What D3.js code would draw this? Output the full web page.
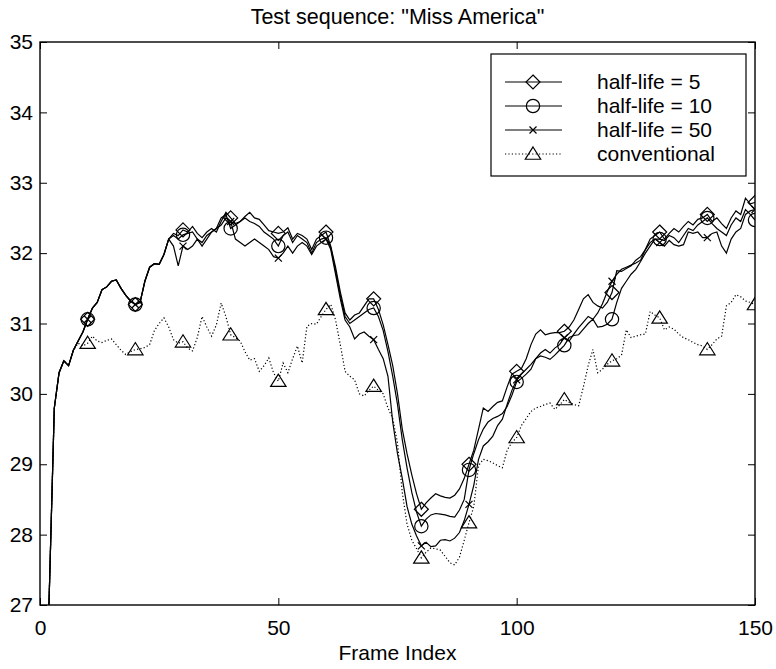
<!DOCTYPE html>
<html>
<head>
<meta charset="utf-8">
<script src="https://cdn.jsdelivr.net/npm/d3@7"></script>
<style>
  body { margin: 0; background: #fff; }
  text { font-family: "Liberation Sans", Arial, sans-serif; }
</style>
</head>
<body>
<svg id="chart" width="776" height="669"></svg>
<script>
// frames 1..150
const frames = d3.range(1, 151);

const halfLife5 = [
  25.0, 27.3, 29.8, 30.3, 30.47, 30.4, 30.62, 30.75, 30.88, 31.06,
  31.22, 31.3, 31.48, 31.52, 31.6, 31.62, 31.5, 31.4, 31.32, 31.27,
  31.3, 31.6, 31.8, 31.85, 31.84, 31.98, 32.2, 32.28, 32.25, 32.33,
  32.3, 32.38, 32.28, 32.22, 32.3, 32.35, 32.3, 32.45, 32.58, 32.5,
  32.42, 32.45, 32.52, 32.58, 32.5, 32.48, 32.4, 32.32, 32.3, 32.28,
  32.3, 32.36, 32.2, 32.28, 32.25, 32.2, 32.05, 32.2, 32.25, 32.3,
  32.1, 31.8, 31.45, 31.15, 31.05, 31.12, 31.15, 31.25, 31.35, 31.35,
  31.2, 30.98, 30.7, 30.4, 30.0, 29.5, 29.15, 28.85, 28.58, 28.36,
  28.45, 28.52, 28.58, 28.55, 28.53, 28.52, 28.56, 28.65, 28.8, 29.0,
  29.2, 29.5, 29.8, 29.75, 29.82, 29.88, 29.9, 30.1, 30.28, 30.32,
  30.36, 30.5, 30.7, 30.85, 30.91, 30.84, 30.86, 30.87, 30.87, 30.89,
  30.95, 31.05, 31.2, 31.35, 31.41, 31.3, 31.25, 31.22, 31.3, 31.44,
  31.75, 31.74, 31.78, 31.82, 31.9, 31.95, 32.05, 32.2, 32.25, 32.3,
  32.2, 32.28, 32.35, 32.3, 32.38, 32.45, 32.4, 32.48, 32.5, 32.55,
  32.45, 32.5, 32.42, 32.35, 32.5, 32.6, 32.55, 32.78, 32.7, 32.72
];

const halfLife10 = [
  25.0, 27.3, 29.8, 30.3, 30.47, 30.4, 30.62, 30.75, 30.88, 31.06,
  31.22, 31.3, 31.48, 31.52, 31.6, 31.62, 31.5, 31.4, 31.32, 31.27,
  31.3, 31.6, 31.8, 31.85, 31.84, 31.98, 32.2, 32.25, 32.2, 32.26,
  32.28, 32.3, 32.2, 32.15, 32.25, 32.3, 32.35, 32.5, 32.55, 32.35,
  32.4, 32.45, 32.5, 32.45, 32.42, 32.38, 32.3, 32.25, 32.2, 32.1,
  32.25, 32.3, 32.15, 32.25, 32.2, 32.15, 32.0, 32.15, 32.2, 32.22,
  32.08, 31.75, 31.4, 31.1, 31.0, 31.05, 31.1, 31.15, 31.2, 31.22,
  31.1, 30.9, 30.6, 30.25, 29.85, 29.35, 28.95, 28.6, 28.32, 28.12,
  28.22, 28.28, 28.3, 28.29, 28.28, 28.26, 28.25, 28.35, 28.5, 28.92,
  29.15, 29.35, 29.5, 29.6, 29.65, 29.68, 29.72, 29.82, 29.98, 30.17,
  30.22, 30.28, 30.35, 30.5, 30.54, 30.52, 30.49, 30.55, 30.62, 30.69,
  30.8, 30.83, 30.84, 30.92, 31.0, 31.06, 30.95, 30.96, 30.99, 31.06,
  31.3, 31.5, 31.6, 31.7, 31.77, 31.88, 32.0, 32.1, 32.2, 32.2,
  32.18, 32.25, 32.22, 32.15, 32.25, 32.35, 32.32, 32.4, 32.45, 32.5,
  32.42, 32.35, 32.3, 32.25, 32.4, 32.5, 32.45, 32.62, 32.55, 32.47
];

const halfLife50 = [
  25.0, 27.3, 29.8, 30.3, 30.47, 30.4, 30.62, 30.75, 30.88, 31.06,
  31.22, 31.3, 31.48, 31.52, 31.6, 31.62, 31.5, 31.4, 31.32, 31.27,
  31.3, 31.6, 31.8, 31.85, 31.84, 31.98, 32.2, 32.1, 31.82, 32.1,
  32.05, 32.1, 32.2, 32.1, 32.2, 32.3, 32.35, 32.4, 32.5, 32.45,
  32.2, 32.15, 32.1, 32.15, 32.2, 32.15, 32.1, 32.05, 31.95, 31.93,
  32.0, 32.1, 32.0, 32.1, 32.15, 32.1, 31.98, 32.1, 32.15, 32.2,
  32.05, 31.7, 31.35, 31.05, 30.95, 30.78, 30.85, 30.88, 30.82, 30.77,
  30.63, 30.5, 30.25, 29.6, 29.15, 28.8, 28.4, 28.15, 27.98, 27.84,
  27.89, 27.83, 27.84, 27.92, 27.93, 27.91, 27.95, 28.03, 28.2, 28.43,
  28.7, 29.07, 29.26, 29.32, 29.4, 29.55, 29.64, 29.85, 30.05, 30.2,
  30.28, 30.35, 30.42, 30.5, 30.58, 30.63, 30.58, 30.65, 30.7, 30.8,
  30.75, 30.85, 30.94, 31.02, 31.1, 31.06, 31.15, 31.28, 31.45, 31.6,
  31.7, 31.77, 31.8, 31.83, 31.86, 31.9, 32.05, 32.15, 32.2, 32.15,
  32.1, 32.18, 32.12, 32.1, 32.12, 32.3, 32.28, 32.3, 32.22, 32.22,
  32.28, 32.3, 32.1, 32.0, 32.2, 32.3, 32.35, 32.55, 32.6, 32.62
];

const conventional = [
  25.0, 27.3, 29.8, 30.3, 30.47, 30.4, 30.62, 30.72, 30.68, 30.72,
  30.82, 30.75, 30.73, 30.76, 30.78, 30.7, 30.62, 30.56, 30.6, 30.63,
  30.64, 30.66, 30.7, 30.9, 31.0, 31.08, 30.95, 30.77, 30.72, 30.74,
  30.65, 30.61, 30.8, 31.1, 30.95, 30.82, 30.98, 31.29, 31.1, 30.84,
  30.8, 30.75, 30.6, 30.48, 30.5, 30.32, 30.4, 30.51, 30.3, 30.18,
  30.44, 30.3, 30.5, 30.68, 30.44, 30.96, 31.0, 30.99, 31.1, 31.2,
  31.27, 31.05, 30.7, 30.32, 30.25, 30.2, 30.0, 29.97, 30.05, 30.11,
  30.05, 30.0, 29.8, 29.65, 29.3, 28.6, 28.15, 27.92, 27.8, 27.67,
  27.75, 27.81, 27.8, 27.78, 27.69, 27.6, 27.57, 27.68, 27.92, 28.17,
  28.4, 28.98, 29.07, 29.05, 29.02, 28.98, 28.95, 29.2, 29.31, 29.38,
  29.55, 29.65, 29.75, 29.8, 29.82, 29.85, 29.87, 29.78, 29.84, 29.92,
  29.88, 29.85, 29.83, 30.1, 30.4, 30.63, 30.3, 30.35, 30.42, 30.47,
  30.5, 30.55, 30.91, 30.8, 30.82, 30.84, 30.85, 31.17, 31.12, 31.08,
  30.91, 30.95, 30.92, 30.85, 30.8, 30.77, 30.73, 30.7, 30.68, 30.63,
  30.7, 30.78, 30.82, 31.25, 31.3, 31.41, 31.38, 31.32, 31.3, 31.27
];

const seriesNames = ["half-life = 5", "half-life = 10", "half-life = 50", "conventional"];
const seriesValues = [halfLife5, halfLife10, halfLife50, conventional];
const seriesMarkers = ["diamond", "circle", "cross", "triangle"];
const markerFrames = [10, 20, 30, 40, 50, 60, 70, 80, 90, 100, 110, 120, 130, 140, 150];

const xTicks = [0, 50, 100, 150];
const yTicks = [27, 28, 29, 30, 31, 32, 33, 34, 35];

const svg = d3.select("#chart"),
    margin = {top: 42, right: 21, bottom: 64, left: 40},
    width = +svg.attr("width") - margin.left - margin.right,
    height = +svg.attr("height") - margin.top - margin.bottom;

const x = d3.scaleLinear().domain([0, 150]).range([0, width]),
    y = d3.scaleLinear().domain([27, 35]).range([height, 0]);

const g = svg.append("g").attr("transform", "translate(" + margin.left + "," + margin.top + ")");

g.append("clipPath").attr("id", "plot-clip")
  .append("rect").attr("width", width).attr("height", height);

// marker drawing
function drawMarker(sel, type, cx, cy, s) {
  if (type === "diamond") {
    sel.append("path").attr("d", `M${cx},${cy - s}L${cx + s},${cy}L${cx},${cy + s}L${cx - s},${cy}Z`);
  } else if (type === "circle") {
    sel.append("circle").attr("cx", cx).attr("cy", cy).attr("r", s * 0.95);
  } else if (type === "cross") {
    const c = s * 0.5;
    sel.append("path").attr("d", `M${cx - c},${cy - c}L${cx + c},${cy + c}M${cx - c},${cy + c}L${cx + c},${cy - c}`);
  } else if (type === "triangle") {
    sel.append("path").attr("d", `M${cx},${cy - s}L${cx + s * 1.1},${cy + s * 0.75}L${cx - s * 1.1},${cy + s * 0.75}Z`);
  }
}

const line = d3.line().x((d, i) => x(frames[i])).y(d => y(d));

const plot = g.append("g").attr("clip-path", "url(#plot-clip)");

seriesValues.forEach((vals, k) => {
  plot.append("path")
    .datum(vals)
    .attr("fill", "none")
    .attr("stroke", "#000")
    .attr("stroke-width", 1.2)
    .attr("stroke-dasharray", k === 3 ? "1.2,2.2" : null)
    .attr("d", line);
});

seriesValues.forEach((vals, k) => {
  const mg = plot.append("g").attr("fill", "none").attr("stroke", "#000").attr("stroke-width", 1.2);
  markerFrames.forEach(f => {
    drawMarker(mg, seriesMarkers[k], x(f), y(vals[f - 1]), 7);
  });
});

// axes, MATLAB style ticks pointing inward
g.append("g")
  .attr("transform", "translate(0," + height + ")")
  .call(d3.axisBottom(x).tickValues(xTicks).tickSizeInner(-7).tickSizeOuter(0).tickPadding(15))
  .call(a => a.select(".domain").remove());

g.append("g")
  .call(d3.axisTop(x).tickValues(xTicks).tickSizeInner(-7).tickSizeOuter(0).tickFormat(""))
  .call(a => a.select(".domain").remove());

g.append("g")
  .call(d3.axisLeft(y).tickValues(yTicks).tickSizeInner(-7).tickSizeOuter(0).tickPadding(7))
  .call(a => a.select(".domain").remove());

g.append("g")
  .attr("transform", "translate(" + width + ",0)")
  .call(d3.axisRight(y).tickValues(yTicks).tickSizeInner(-7).tickSizeOuter(0).tickFormat(""))
  .call(a => a.select(".domain").remove());

g.selectAll(".tick text").attr("font-size", 21).attr("fill", "#000")
  .style("font-family", "'Liberation Sans', Arial, sans-serif");
g.selectAll(".tick line").attr("stroke", "#000");

g.append("rect")
  .attr("width", width).attr("height", height)
  .attr("fill", "none").attr("stroke", "#000").attr("stroke-width", 1.4);

// title and x label
svg.append("text")
  .attr("x", margin.left + width / 2).attr("y", 24)
  .attr("text-anchor", "middle").attr("font-size", 21.5)
  .text('Test sequence: "Miss America"');

svg.append("text")
  .attr("x", margin.left + width / 2).attr("y", 660)
  .attr("text-anchor", "middle").attr("font-size", 21)
  .text("Frame Index");

// legend
const legend = svg.append("g").attr("transform", "translate(491,54)");
legend.append("rect")
  .attr("width", 255).attr("height", 122)
  .attr("fill", "#fff").attr("stroke", "#000").attr("stroke-width", 1.2);

seriesNames.forEach((name, k) => {
  const ly = 28 + k * 24;
  legend.append("line")
    .attr("x1", 14).attr("x2", 71).attr("y1", ly).attr("y2", ly)
    .attr("stroke", "#000").attr("stroke-width", 1.2)
    .attr("stroke-dasharray", k === 3 ? "1.2,2.2" : null);
  const mg = legend.append("g").attr("fill", "none").attr("stroke", "#000").attr("stroke-width", 1.2);
  drawMarker(mg, seriesMarkers[k], 42, ly, 7);
  legend.append("text")
    .attr("x", 106).attr("y", ly).attr("dy", "0.35em")
    .attr("font-size", 21)
    .text(name);
});
</script>
</body>
</html>
